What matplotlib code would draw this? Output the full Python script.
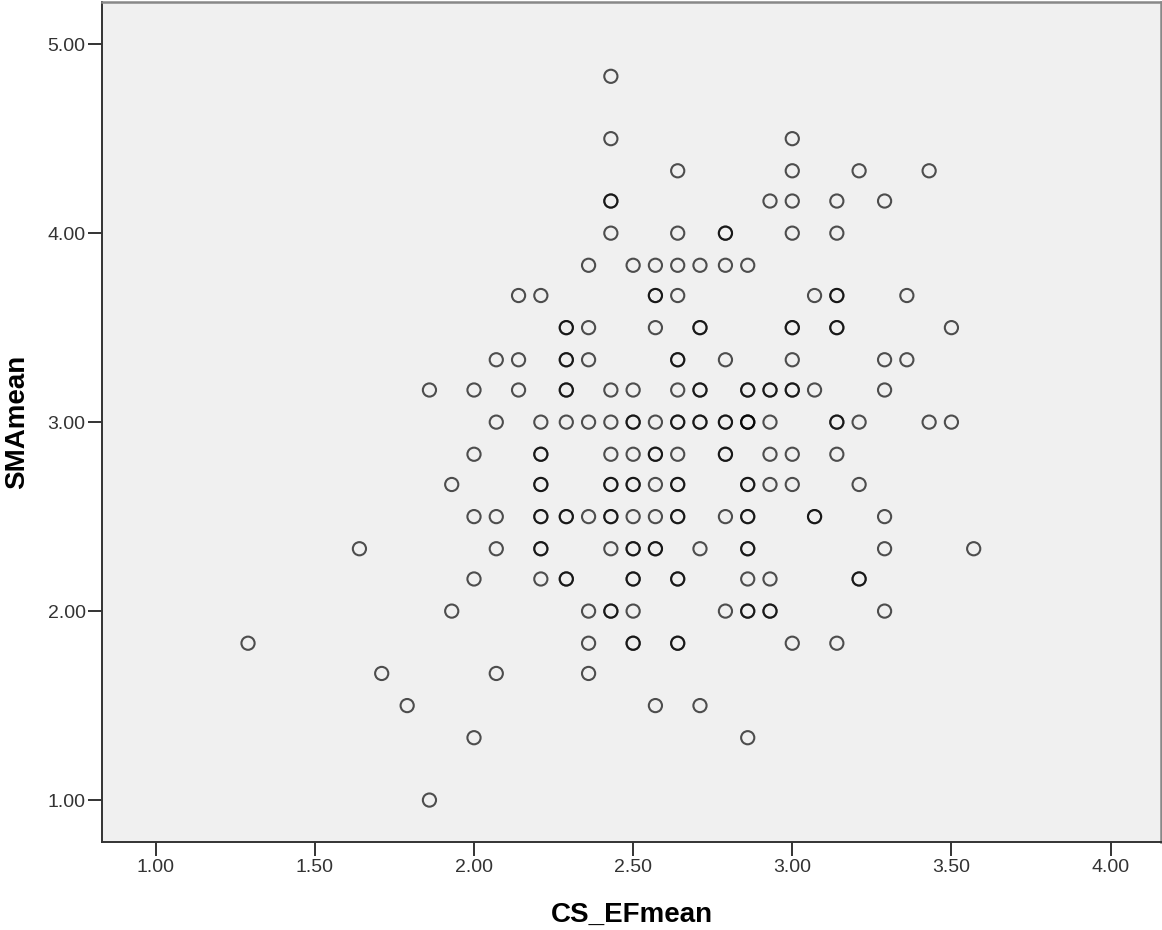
import matplotlib
matplotlib.use("Agg")
import matplotlib.pyplot as plt

plt.rcParams['font.family'] = ['Liberation Sans', 'DejaVu Sans']

# each SPSS case is one point; repeated pairs overlap and look darker
cs_ef_mean = [
    2.43,                                                  # 4.83
    2.43, 3.00,                                            # 4.50
    2.64, 3.00, 3.21, 3.43,                                # 4.33
    2.43, 2.43, 2.93, 3.00, 3.14, 3.29,                    # 4.17
    2.43, 2.64, 2.79, 2.79, 3.00, 3.14,                    # 4.00
    2.36, 2.50, 2.57, 2.64, 2.71, 2.79, 2.86,              # 3.83
    2.14, 2.21, 2.57, 2.57, 2.64, 3.07, 3.14, 3.14, 3.36,  # 3.67
    2.29, 2.29, 2.36, 2.57, 2.71, 2.71, 3.00, 3.00, 3.14, 3.14, 3.50,  # 3.50
    2.07, 2.14, 2.29, 2.29, 2.36, 2.64, 2.64, 2.79, 3.00, 3.29, 3.36,  # 3.33
    1.86, 2.00, 2.14, 2.29, 2.29, 2.43, 2.50, 2.64, 2.71, 2.71,
    2.86, 2.86, 2.93, 2.93, 3.00, 3.00, 3.07, 3.29,        # 3.17
    2.07, 2.21, 2.29, 2.36, 2.43, 2.50, 2.50, 2.57, 2.64, 2.64, 2.71, 2.71,
    2.79, 2.79, 2.86, 2.86, 2.86, 2.93, 3.14, 3.14, 3.21, 3.43, 3.50,  # 3.00
    2.00, 2.21, 2.21, 2.43, 2.50, 2.57, 2.57, 2.64, 2.79, 2.79, 2.93, 3.00, 3.14,  # 2.83
    1.93, 2.21, 2.21, 2.43, 2.43, 2.50, 2.50, 2.57, 2.64, 2.64,
    2.86, 2.86, 2.93, 3.00, 3.21,                          # 2.67
    2.00, 2.07, 2.21, 2.21, 2.29, 2.29, 2.36, 2.43, 2.43, 2.50, 2.57,
    2.64, 2.64, 2.79, 2.86, 2.86, 3.07, 3.07, 3.29,        # 2.50
    1.64, 2.07, 2.21, 2.21, 2.43, 2.50, 2.50, 2.57, 2.57, 2.71,
    2.86, 2.86, 3.29, 3.57,                                # 2.33
    2.00, 2.21, 2.29, 2.29, 2.50, 2.50, 2.64, 2.64, 2.86, 2.93, 3.21, 3.21,  # 2.17
    1.93, 2.36, 2.43, 2.43, 2.50, 2.79, 2.86, 2.86, 2.93, 2.93, 3.29,  # 2.00
    1.29, 2.36, 2.50, 2.50, 2.64, 2.64, 3.00, 3.14,        # 1.83
    1.71, 2.07, 2.36,                                      # 1.67
    1.79, 2.57, 2.71,                                      # 1.50
    2.00, 2.86,                                            # 1.33
    1.86,                                                  # 1.00
]

sma_mean = (
    [4.83] * 1 + [4.50] * 2 + [4.33] * 4 + [4.17] * 6 + [4.00] * 6
    + [3.83] * 7 + [3.67] * 9 + [3.50] * 11 + [3.33] * 11 + [3.17] * 18
    + [3.00] * 23 + [2.83] * 13 + [2.67] * 15 + [2.50] * 19 + [2.33] * 14
    + [2.17] * 12 + [2.00] * 11 + [1.83] * 8 + [1.67] * 3 + [1.50] * 3
    + [1.33] * 2 + [1.00] * 1
)

x_ticks = [1.0, 1.5, 2.0, 2.5, 3.0, 3.5, 4.0]
y_ticks = [1.0, 2.0, 3.0, 4.0, 5.0]

fig = plt.figure(figsize=(11.62, 9.30), dpi=100)
ax = fig.add_axes([0.088, 0.0946, 0.911, 0.903])
ax.set_facecolor('#f0f0f0')

ax.scatter(cs_ef_mean, sma_mean, s=90, facecolors='none',
           edgecolors=(0, 0, 0, 0.68), linewidths=1.5)

ax.set_xlim(0.832, 4.158)
ax.set_ylim(0.778, 5.222)
ax.set_xticks(x_ticks)
ax.set_yticks(y_ticks)
ax.set_xticklabels([f'{v:.2f}' for v in x_ticks])
ax.set_yticklabels([f'{v:.2f}' for v in y_ticks])
ax.tick_params(direction='out', length=10, width=1.4, colors='#333333',
               labelsize=14, pad=2)

for side in ['left', 'bottom']:
    ax.spines[side].set_color('#333333')
    ax.spines[side].set_linewidth(1.4)
for side in ['top', 'right']:
    ax.spines[side].set_color('#888888')
    ax.spines[side].set_linewidth(1.8)

ax.set_xlabel('CS_EFmean', fontsize=20, fontweight='bold', va='center')
ax.set_ylabel('SMAmean', fontsize=20, fontweight='bold', va='center')
ax.xaxis.set_label_coords(0.5, -0.087)
ax.yaxis.set_label_coords(-0.0806, 0.5)

fig.savefig('out.png', dpi=100)
